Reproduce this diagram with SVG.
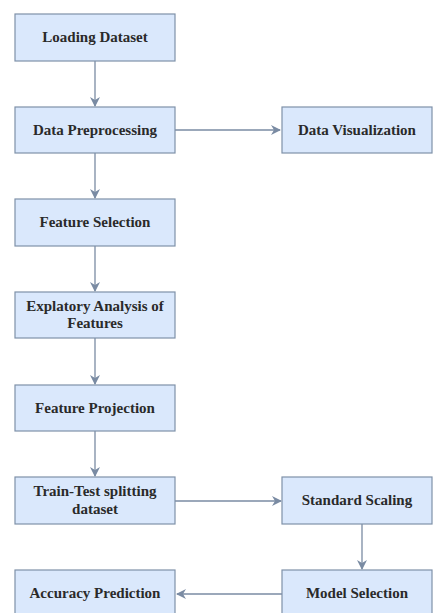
<svg xmlns="http://www.w3.org/2000/svg" width="433" height="613" viewBox="0 0 433 613">
<style>
.box{fill:#dae8fc;stroke:#7f91a8;stroke-width:1.2}
.t{font-family:"Liberation Serif","Times New Roman","DejaVu Serif",serif;font-weight:bold;font-size:15px;fill:#2a2a2a;text-anchor:middle}
.c{stroke:#7a8ba3;stroke-width:1.3;fill:none}
</style>
<defs>
<marker id="a" viewBox="0 0 10 10" refX="9" refY="5" markerWidth="10" markerHeight="10" markerUnits="userSpaceOnUse" orient="auto">
<path d="M0,0 L10,5 L0,10 L3,5 Z" fill="#7a8ba3"/>
</marker>
</defs>
<rect width="433" height="613" fill="#fff"/>
<g id="connectors">
<line class="c" x1="95" y1="61" x2="95" y2="106" marker-end="url(#a)"/>
<line class="c" x1="175" y1="130" x2="280" y2="130" marker-end="url(#a)"/>
<line class="c" x1="95" y1="153" x2="95" y2="198" marker-end="url(#a)"/>
<line class="c" x1="95" y1="246" x2="95" y2="291" marker-end="url(#a)"/>
<line class="c" x1="95" y1="338" x2="95" y2="384" marker-end="url(#a)"/>
<line class="c" x1="95" y1="431" x2="95" y2="476" marker-end="url(#a)"/>
<line class="c" x1="175" y1="501" x2="281" y2="501" marker-end="url(#a)"/>
<line class="c" x1="362" y1="524" x2="362" y2="569" marker-end="url(#a)"/>
<line class="c" x1="282" y1="594" x2="177" y2="594" marker-end="url(#a)"/>
</g>
<g id="n1"><rect class="box" x="15" y="14" width="160" height="47"/><text class="t" x="95" y="42">Loading Dataset</text></g>
<g id="n2"><rect class="box" x="15" y="107" width="160" height="46"/><text class="t" x="95" y="135">Data Preprocessing</text></g>
<g id="n3"><rect class="box" x="282" y="107" width="150" height="46"/><text class="t" x="357" y="135">Data Visualization</text></g>
<g id="n4"><rect class="box" x="15" y="199" width="160" height="47"/><text class="t" x="95" y="227">Feature Selection</text></g>
<g id="n5"><rect class="box" x="15" y="292" width="160" height="46"/><text class="t" x="95" y="311">Explatory Analysis of</text><text class="t" x="95" y="328">Features</text></g>
<g id="n6"><rect class="box" x="15" y="385" width="160" height="46"/><text class="t" x="95" y="413">Feature Projection</text></g>
<g id="n7"><rect class="box" x="15" y="477" width="160" height="47"/><text class="t" x="95" y="496">Train-Test splitting</text><text class="t" x="95" y="514">dataset</text></g>
<g id="n8"><rect class="box" x="282" y="477" width="150" height="47"/><text class="t" x="357" y="505">Standard Scaling</text></g>
<g id="n9"><rect class="box" x="282" y="570" width="150" height="47"/><text class="t" x="357" y="598">Model Selection</text></g>
<g id="n10"><rect class="box" x="15" y="570" width="160" height="47"/><text class="t" x="95" y="598">Accuracy Prediction</text></g>
</svg>
